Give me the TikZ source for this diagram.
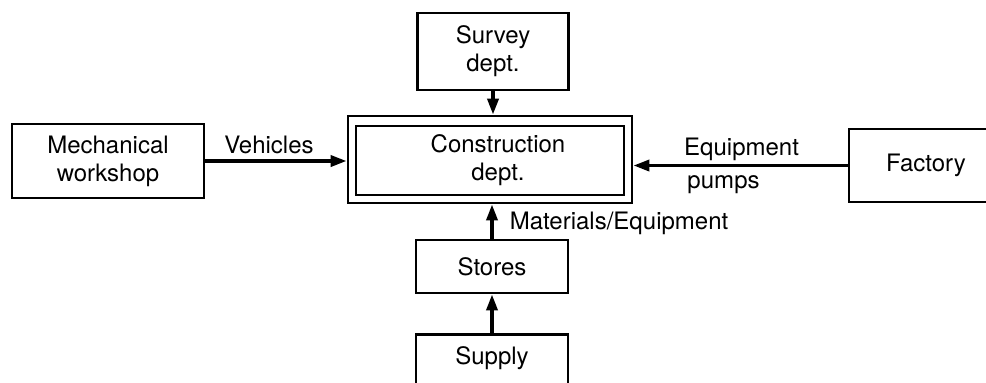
\documentclass[tikz,border=0pt]{standalone}
\usepackage{fontspec}
\setmainfont{TeX Gyre Heros}
\usetikzlibrary{arrows.meta}
\tikzset{
  box/.style={draw, line width=1.4pt, rectangle, align=center, inner sep=0pt,
    font=\fontsize{12}{14}\selectfont},
  flow/.style={line width=1.8pt, -{Triangle[length=8pt,width=5.5pt]}},
  lbl/.style={font=\fontsize{12}{14}\selectfont, inner sep=0pt},
}
\begin{document}
\begin{tikzpicture}[x=0.5pt,y=-0.5pt]
\clip (0,0) rectangle (986,382);

% departments
\node[box, minimum width=75.5pt, minimum height=38.5pt] (survey) at (493,51.5) {Survey\\dept.};
\node[box, minimum width=142pt, minimum height=43.5pt] (cons) at (490,159.5) {};
\node[box, minimum width=134pt, minimum height=34.5pt] (consin) at (490,160.5) {\hspace*{8pt}Construction\\\hspace*{8pt}dept.};
\node[box, minimum width=96pt, minimum height=37pt] (mech) at (108,161) {Mechanical\\workshop};
\node[box, minimum width=77pt, minimum height=36.5pt] (fac) at (926,165.5) {Factory};
\node[box, minimum width=76pt, minimum height=26.5pt] (stores) at (492,266.5) {Stores};
\node[box, minimum width=76pt, text height=15pt, text depth=16pt, anchor=north] (supply) at (492,333) {Supply};

% flows into the construction department
\draw[flow] (survey.south) -- (survey.south |- cons.north);
\draw[flow] (mech.east) -- (mech.east -| cons.west)
  node[lbl, pos=.45, anchor=base, yshift=4pt] {Vehicles};
\draw[flow] (fac.west) -- (fac.west -| cons.east)
  node[lbl, pos=.495, anchor=base, yshift=5.25pt] {Equipment}
  node[lbl, pos=.756, anchor=base west, yshift=-11.25pt] {pumps};
\draw[flow] (stores.north) -- (stores.north |- cons.south)
  node[lbl, pos=.27, anchor=base west, xshift=8pt] {Materials/Equipment};
\draw[flow] (supply.north) -- (stores.south);
\end{tikzpicture}
\end{document}
